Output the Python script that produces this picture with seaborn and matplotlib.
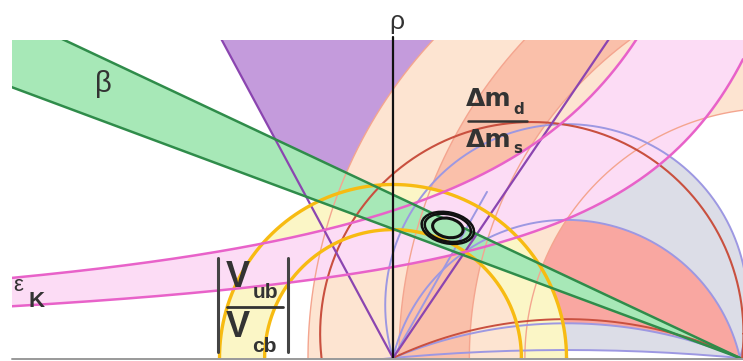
import numpy as np
import matplotlib
matplotlib.use("Agg")
import matplotlib.pyplot as plt
from matplotlib.path import Path
from matplotlib.patches import PathPatch, Ellipse, Polygon
import seaborn as sns

# ---- constraints in the (rho, eta) plane ----
beta_band_deg = [20.4, 25.2]            # sin(2beta) wedge, opening angles at (1, 0)
epsk_upper = [1.306, 0.555]             # eps_K hyperbola eta = c / (a - rho) as [a, c]
epsk_lower = [1.45, 0.38]
dmd_center = [1.10, 0.0]                # Delta m_d ring
dmd_radii = [0.72, 1.345]
ratio_center = [1.36, 0.0]              # Delta m_d / Delta m_s ring
ratio_radii = [1.14, 1.343]
vub_radii = [0.37, 0.50]                # |Vub/Vcb| ring around the origin
alpha_apex = [0.674, 0.398, 0.10, 0.023]  # alpha circles through (0,0) and (1,0), apex heights
alpha_red_apex = 0.112
alpha_wedge_deg = [75.0, 118.3]
purple_ray_deg = [55.9, 118.3]
lavender_ray_deg = [60.5]
lavender_ray_len = [0.55]
red_circle = [0.40, 0.07, 0.61]         # centre rho, centre eta, radius
fit_center = [0.158, 0.375]
fit_widths = [0.153, 0.135, 0.089]
fit_heights = [0.089, 0.078, 0.055]
fit_angle = -12.0

RHO_LIM = [-1.098, 1.0086]
ETA_LIM = [0.0, 0.9164]

# colours
C_PURPLE_FILL = "#c49bdc"
C_PURPLE_LINE = "#8b45b0"
C_LAVENDER = "#9d98e2"
C_GREY_FILL = "#dcdde7"
C_RED_FILL = "#f9a7a1"
C_RED_LINE = "#c9503f"
C_PEACH = "#fde4d1"
C_SALMON = "#fac0aa"
C_SALMON_LINE = "#f4a58f"
C_YELLOW = "#fbf6c6"
C_GOLD = "#f7bb12"
C_PINK = "#fcdcf5"
C_MAGENTA = "#e862c9"
C_GREEN = "#a7e8b7"
C_DKGREEN = "#2f8c4a"
C_TEXT = "#333333"

sns.set_theme(style="white")
plt.rcParams["font.family"] = ["Liberation Sans", "DejaVu Sans"]

fig = plt.figure(figsize=(7.43, 3.61), dpi=100)
ax = fig.add_axes([12 / 743, 3 / 361, 731 / 743, 318 / 361])
ax.set_xlim(*RHO_LIM)
ax.set_ylim(*ETA_LIM)
ax.set_aspect("auto")
ax.axis("off")

t = np.linspace(0, 2 * np.pi, 900)


def circle(cx, cy, r):
    return cx + r * np.cos(t), cy + r * np.sin(t)


def apex_circle(h):
    k = (h * h - 0.25) / (2 * h)
    return 0.5, k, h - k


def ring_patch(c1, r1, c2, r2, color, z):
    x1, y1 = circle(c1[0], c1[1], r1)
    x2, y2 = circle(c2[0], c2[1], r2)
    verts = np.concatenate([np.column_stack([x1, y1]),
                            np.column_stack([x2[::-1], y2[::-1]])])
    codes = np.full(len(verts), Path.LINETO)
    codes[0] = Path.MOVETO
    codes[len(x1)] = Path.MOVETO
    ax.add_patch(PathPatch(Path(verts, codes), facecolor=color,
                           edgecolor="none", zorder=z))


def line(x, y, color, lw, z=10):
    sns.lineplot(x=x, y=y, sort=False, estimator=None, color=color,
                 linewidth=lw, ax=ax, zorder=z, legend=False)


# alpha regions (grey and red)
ca = [apex_circle(h) for h in alpha_apex]
ring_patch(ca[0][:2], ca[0][2], ca[3][:2], ca[3][2], C_GREY_FILL, 1)
ring_patch(ca[1][:2], ca[1][2], ca[2][:2], ca[2][2], C_RED_FILL, 2)

# purple alpha wedge above the sin2beta band
tb = np.tan(np.radians(beta_band_deg[1]))
pts = []
for ang in [alpha_wedge_deg[1], alpha_wedge_deg[0]]:
    c, s = np.cos(np.radians(ang)), np.sin(np.radians(ang))
    s_cut = tb / (s + c * tb)
    pts.append((s_cut * c, s_cut * s))
top = 2.0
p_hi = [(np.cos(np.radians(a)) * top / np.sin(np.radians(a)), top)
        for a in [alpha_wedge_deg[1], alpha_wedge_deg[0]]]
ax.add_patch(Polygon([pts[0], p_hi[0], p_hi[1], pts[1]], closed=True,
                     facecolor=C_PURPLE_FILL, edgecolor="none", zorder=3))

# Delta m_d and ratio rings
ring_patch(dmd_center, dmd_radii[1], dmd_center, dmd_radii[0], C_PEACH, 4)
ring_patch(ratio_center, ratio_radii[1], ratio_center, ratio_radii[0], C_SALMON, 5)

# |Vub/Vcb| ring
ring_patch((0, 0), vub_radii[1], (0, 0), vub_radii[0], C_YELLOW, 6)

# eps_K band
rho = np.linspace(RHO_LIM[0], RHO_LIM[1], 800)
eta_up = epsk_upper[1] / (epsk_upper[0] - rho)
eta_lo = epsk_lower[1] / (epsk_lower[0] - rho)
ax.fill_between(rho, eta_lo, eta_up, color=C_PINK, lw=0, zorder=7)

# sin2beta band
L = 3.0
b_lo, b_hi = np.radians(beta_band_deg)
ax.add_patch(Polygon([(1, 0), (1 - L * np.cos(b_lo), L * np.sin(b_lo)),
                      (1 - L * np.cos(b_hi), L * np.sin(b_hi))], closed=True,
                     facecolor=C_GREEN, edgecolor="none", zorder=8))

# ---- outlines ----
for r in dmd_radii:
    x, y = circle(dmd_center[0], dmd_center[1], r)
    line(x, y, C_SALMON_LINE, 1.0, 11)
for r in ratio_radii:
    x, y = circle(ratio_center[0], ratio_center[1], r)
    line(x, y, C_SALMON_LINE, 1.0, 11)
for cx, cy, r in ca:
    x, y = circle(cx, cy, r)
    line(x, y, C_LAVENDER, 1.4, 12)
cx, cy, r = apex_circle(alpha_red_apex)
x, y = circle(cx, cy, r)
line(x, y, C_RED_LINE, 1.4, 12)
x, y = circle(*red_circle)
line(x, y, C_RED_LINE, 1.5, 12)
for ang, ln in zip(lavender_ray_deg, lavender_ray_len):
    a = np.radians(ang)
    line([0, ln * np.cos(a)], [0, ln * np.sin(a)], C_LAVENDER, 1.4, 12)
for ang in purple_ray_deg:
    a = np.radians(ang)
    line([0, 2 * np.cos(a)], [0, 2 * np.sin(a)], C_PURPLE_LINE, 1.6, 13)
for r in vub_radii:
    x, y = circle(0, 0, r)
    line(x, y, C_GOLD, 2.4, 14)
line(rho, eta_up, C_MAGENTA, 1.8, 15)
line(rho, eta_lo, C_MAGENTA, 1.8, 15)
for b in [b_lo, b_hi]:
    line([1, 1 - L * np.cos(b)], [0, L * np.sin(b)], C_DKGREEN, 1.8, 16)

# global fit contours
ax.add_patch(Ellipse(fit_center, fit_widths[2], fit_heights[2], angle=fit_angle,
                     facecolor=C_GREEN, edgecolor="#111111", lw=2.2, zorder=20))
for w, h in zip(fit_widths[:2], fit_heights[:2]):
    ax.add_patch(Ellipse(fit_center, w, h, angle=fit_angle, facecolor="none",
                         edgecolor="#111111", lw=1.8, zorder=20))

# axes lines
ax.plot([0, 0], [0, 0.925], color="#111111", lw=1.6, zorder=30, clip_on=False)
ax.plot(RHO_LIM, [-0.004, -0.004], color="#999999", lw=1.4, zorder=30, clip_on=False)


# ---- labels ----
def ftext(px, py, s, size, **kw):
    fig.text(px / 743, 1 - py / 361, s, fontsize=size, color=C_TEXT,
             zorder=40, **kw)


ftext(397, 22, "ρ", 19, ha="center", va="center")
ftext(103, 84, "β", 21, ha="center", va="center")

# Delta m_d / Delta m_s
DM_FONT = dict(family="DejaVu Sans", fontweight="bold")
ftext(466, 106, "Δm", 18, ha="left", va="baseline", **DM_FONT)
ftext(513, 114, "d", 11, ha="left", va="baseline", **DM_FONT)
fig.add_artist(plt.Line2D([468 / 743, 527 / 743], [1 - 121 / 361, 1 - 121 / 361],
                          color=C_TEXT, lw=1.8, zorder=40))
ftext(466, 147, "Δm", 18, ha="left", va="baseline", **DM_FONT)
ftext(513, 153, "s", 11, ha="left", va="baseline", **DM_FONT)

# eps_K
ftext(13, 291, "ε", 16, ha="left", va="baseline")
ftext(29, 307, "K", 16, ha="left", va="baseline", fontweight="bold")

# |Vub / Vcb|
for bx in [218, 288]:
    fig.add_artist(plt.Line2D([bx / 743, bx / 743], [1 - 258 / 361, 1 - 352 / 361],
                              color="#444444", lw=2.2, zorder=40))
fig.add_artist(plt.Line2D([227 / 743, 283 / 743], [1 - 307 / 361, 1 - 307 / 361],
                          color=C_TEXT, lw=2.0, zorder=40))
ftext(226, 287, "V", 26, ha="left", va="baseline", fontweight="bold")
ftext(253, 298, "ub", 15, ha="left", va="baseline", fontweight="bold")
ftext(226, 337, "V", 26, ha="left", va="baseline", fontweight="bold")
ftext(252, 352, "cb", 15, ha="left", va="baseline", fontweight="bold")

fig.savefig("out.png", dpi=100, facecolor="white")
